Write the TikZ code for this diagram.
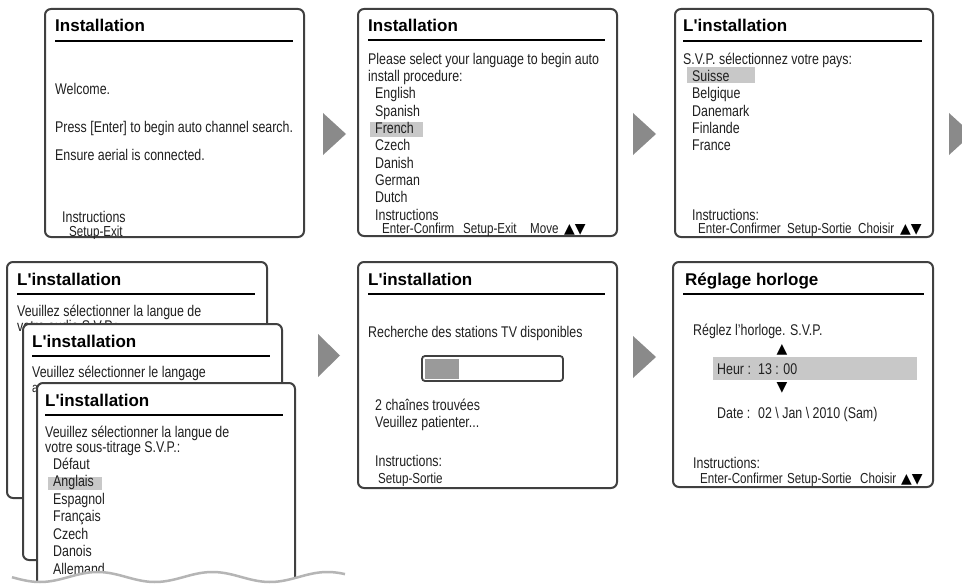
\documentclass[tikz,border=0pt]{standalone}
\usepackage{fontspec}
\setmainfont[FakeStretch=0.8]{Liberation Sans}
\newfontfamily\titlef{Liberation Sans}
\newfontfamily\symf{DejaVu Sans}
\newcommand\bodyfont{\fontsize{15.5}{17}\selectfont}
\newcommand\smallbody{\fontsize{14.5}{16}\selectfont}
\newcommand\tri{{\symf\fontsize{14}{15}\selectfont ▲▼}}
\definecolor{bord}{HTML}{404040}
\definecolor{hlgray}{HTML}{C8C8C8}
\definecolor{arrgray}{HTML}{8A8A8A}
\definecolor{bargray}{HTML}{9A9A9A}
\definecolor{wavegray}{HTML}{B5B5B5}
\definecolor{ink}{HTML}{202020}
\tikzset{
  panel/.style={draw=bord, line width=2pt, rounded corners=6pt, fill=white},
  ttl/.style={anchor=base west, inner sep=0pt, font=\titlef\bfseries\fontsize{17}{20}\selectfont},
  txt/.style={anchor=base west, inner sep=0pt, text=ink, font=\bodyfont},
  stxt/.style={anchor=base west, inner sep=0pt, text=ink, font=\smallbody},
  symtxt/.style={anchor=base west, inner sep=0pt},
  rul/.style={line width=2pt, black},
  hl/.style={fill=hlgray, draw=none},
  nextarrow/.style={fill=arrgray, draw=none},
}
\begin{document}
\begin{tikzpicture}[x=1pt, y=-1pt]
\useasboundingbox (0,0) rectangle (962,586);
\clip (0,0) rectangle (962,586);
\fill[white] (0,0) rectangle (962,586);

% ---------- Panel 1 ----------
\draw[panel] (45,9) rectangle (304,237);
\node[ttl] (t1) at (55,32) {Installation};
\draw[rul] (55,41) -- (293,41);
\node[txt] (a1) at (55,95) {Welcome.};
\node[txt] (a2) at (55,132) {Press [Enter] to begin auto channel search.};
\node[txt] (a3) at (55,160) {Ensure aerial is connected.};
\node[txt] (a4) at (62,222) {Instructions};
\node[stxt] (a5) at (69,236) {Setup-Exit};

\fill[nextarrow] (323,113) -- (346,134) -- (323,155) -- cycle;

% ---------- Panel 2 ----------
\draw[panel] (358,9) rectangle (617,236);
\node[ttl] (t2) at (368,32) {Installation};
\draw[rul] (368,40) -- (605,40);
\fill[hl] (370,122) rectangle (423,137);
\node[txt] (b1) at (368,64.3) {Please select your language to begin auto};
\node[txt] (b2) at (368,81.5) {install procedure:};
\node[txt] (b3) at (375,98.9) {English};
\node[txt] (b4) at (375,116.2) {Spanish};
\node[txt] (b5) at (375,133.5) {French};
\node[txt] (b6) at (375,150.8) {Czech};
\node[txt] (b7) at (375,168.1) {Danish};
\node[txt] (b8) at (375,185.4) {German};
\node[txt] (b9) at (375,202.7) {Dutch};
\node[txt] (b10) at (375,220) {Instructions};
\node[stxt] (b11) at (382,233) {Enter-Confirm};
\node[stxt] (b12) at (463,233) {Setup-Exit};
\node[stxt] (b13) at (530,233) {Move};
\node[symtxt] (b14) at (564,233) {\tri};

\fill[nextarrow] (633,113) -- (656,134) -- (633,155) -- cycle;

% ---------- Panel 3 ----------
\draw[panel] (675,9) rectangle (933,237);
\node[ttl] (t3) at (683,32) {L'installation};
\draw[rul] (683,41) -- (922,41);
\fill[hl] (687,67) rectangle (755,83);
\node[txt] (c1) at (683,64.5) {S.V.P. sélectionnez votre pays:};
\node[txt] (c2) at (692,81.5) {Suisse};
\node[txt] (c3) at (692,99) {Belgique};
\node[txt] (c4) at (692,116.3) {Danemark};
\node[txt] (c5) at (692,133.6) {Finlande};
\node[txt] (c6) at (692,150.9) {France};
\node[txt] (c7) at (692,220) {Instructions:};
\node[stxt] (c8) at (698,233) {Enter-Confirmer};
\node[stxt] (c9) at (787,233) {Setup-Sortie};
\node[stxt] (c10) at (858,233) {Choisir};
\node[symtxt] (c11) at (900,233) {\tri};

\fill[nextarrow] (949,113) -- (972,134) -- (949,155) -- cycle;

% ---------- Stacked panels ----------
\draw[panel] (7,262) rectangle (267,498);
\node[ttl] (t4) at (17,285) {L'installation};
\draw[rul] (17,293.5) -- (255,293.5);
\node[txt] (d1) at (17,316) {Veuillez sélectionner la langue de};
\node[txt] (d2) at (17,331) {votre audio S.V.P.:};

\draw[panel] (23,324) rectangle (282,560);
\node[ttl] (t5) at (32,347) {L'installation};
\draw[rul] (32,355.5) -- (270,355.5);
\node[txt] (e1) at (32,377.7) {Veuillez sélectionner le langage};
\node[stxt, font=\fontsize{13.5}{15}\selectfont] (e2) at (32,392.3) {audio S.V.P.:};

\draw[panel] (37,383) rectangle (295,640);
\node[ttl] (t6) at (45,406.5) {L'installation};
\draw[rul] (45,414.5) -- (283,414.5);
\fill[hl] (48,477) rectangle (102,490);
\node[txt] (f1) at (45,437) {Veuillez sélectionner la langue de};
\node[txt] (f2) at (45,452.5) {votre sous-titrage S.V.P.:};
\node[txt] (f3) at (53,469.2) {Défaut};
\node[txt] (f4) at (53,486.7) {Anglais};
\node[txt] (f5) at (53,504.2) {Espagnol};
\node[txt] (f6) at (53,521.7) {Français};
\node[txt] (f7) at (53,539.2) {Czech};
\node[txt] (f8) at (53,556.7) {Danois};
\node[txt] (f9) at (53,574.2) {Allemand};

% torn edge
\fill[white] plot[domain=12:345, samples=120] (\x, {577+5*cos((\x-40)/115*360)}) -- (345,600) -- (0,600) -- (0,577) -- cycle;
\draw[wavegray, line width=2.5pt] plot[domain=12:345, samples=120] (\x, {577+5*cos((\x-40)/115*360)});

\fill[nextarrow] (318,334) -- (340,355.5) -- (318,377) -- cycle;

% ---------- Panel 5 ----------
\draw[panel] (358,262) rectangle (617,488);
\node[ttl] (t7) at (368,285) {L'installation};
\draw[rul] (368,293.5) -- (605,293.5);
\node[txt] (g1) at (368,337) {Recherche des stations TV disponibles};
\draw[draw=bord, line width=1.8pt, rounded corners=3pt] (422,356) rectangle (563,381);
\fill[bargray] (424.5,358.5) rectangle (459,378.5);
\node[txt] (g2) at (375,410) {2 chaînes trouvées};
\node[txt] (g3) at (375,427) {Veuillez patienter...};
\node[txt] (g4) at (375,466.7) {Instructions:};
\node[stxt] (g5) at (378,483) {Setup-Sortie};

\fill[nextarrow] (633,336) -- (656,357) -- (633,378) -- cycle;

% ---------- Panel 6 ----------
\draw[panel] (673,262) rectangle (933,487);
\node[ttl] (t8) at (685,285) {Réglage horloge};
\draw[rul] (683,293.5) -- (924,293.5);
\node[txt] (h1) at (693,335) {Réglez l'horloge. S.V.P.};
\fill[hl] (713,357) rectangle (917,380);
\node[inner sep=0pt, font={\symf\fontsize{14}{15}\selectfont}] (h2) at (782,350) {▲};
\node[txt] (h3) at (717,374) {Heur :};
\node[txt] (h4) at (758,374) {13 : 00};
\node[inner sep=0pt, font={\symf\fontsize{14}{15}\selectfont}] (h5) at (782,387.5) {▼};
\node[txt] (h6) at (717,418) {Date :};
\node[txt] (h7) at (758,418) {02 \textbackslash{} Jan \textbackslash{} 2010 (Sam)};
\node[txt] (h8) at (693,468) {Instructions:};
\node[stxt] (h9) at (700,483) {Enter-Confirmer};
\node[stxt] (h10) at (787,483) {Setup-Sortie};
\node[stxt] (h11) at (860,483) {Choisir};
\node[symtxt] (h12) at (901,483) {\tri};
\end{tikzpicture}
\end{document}
